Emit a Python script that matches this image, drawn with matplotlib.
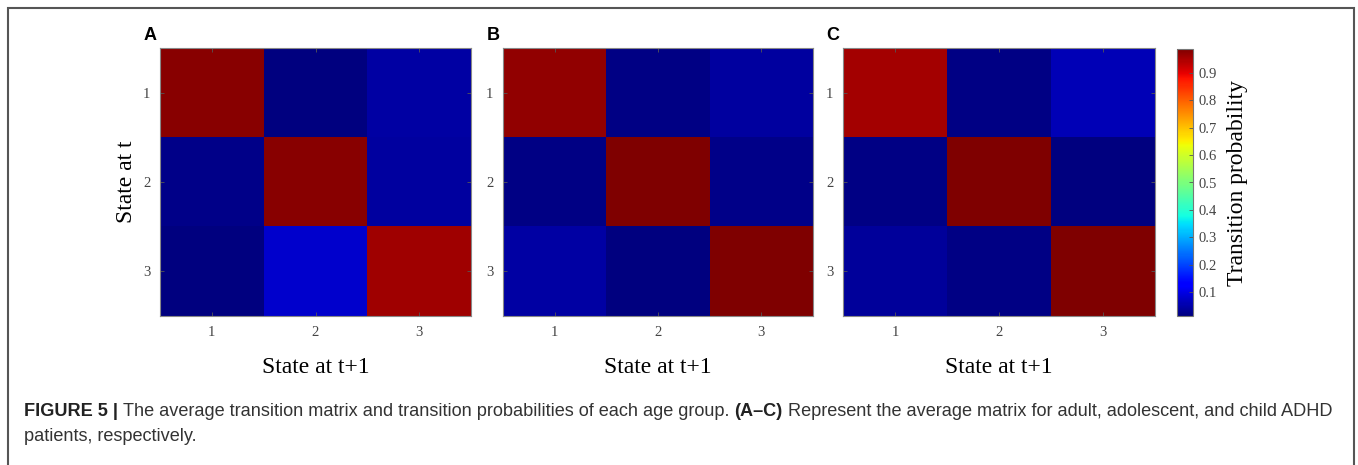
import numpy as np
import matplotlib.pyplot as plt
from matplotlib.patches import Rectangle

# average transition matrices (rows: state at t, cols: state at t+1)
adult = [[0.980, 0.012, 0.045],
         [0.020, 0.980, 0.040],
         [0.012, 0.080, 0.960]]
adolescent = [[0.970, 0.018, 0.040],
              [0.018, 0.988, 0.023],
              [0.044, 0.014, 0.988]]
child = [[0.955, 0.018, 0.060],
         [0.018, 0.988, 0.014],
         [0.035, 0.018, 0.988]]
panels = ['A', 'B', 'C']
states = [1, 2, 3]
cbar_ticks = [0.1, 0.2, 0.3, 0.4, 0.5, 0.6, 0.7, 0.8, 0.9]
vmin, vmax = 0.012, 0.988

W, H = 1358, 465
fig = plt.figure(figsize=(W / 100, H / 100), dpi=100)

serif = 'Liberation Serif'
sans = 'Liberation Sans'
tick_col = '#444444'

# frame around the figure panel
fig.patches.append(Rectangle((8 / W, -0.1), (1354 - 8) / W, 1.1 - 8 / H,
                             transform=fig.transFigure, fill=False,
                             edgecolor='#555555', linewidth=1.5))

lefts = [160, 503, 843]
widths = [311, 310, 312]
top, bottom = 48, 316
mats = [adult, adolescent, child]

for i, mat in enumerate(mats):
    ax = fig.add_axes([lefts[i] / W, (H - bottom) / H, widths[i] / W, (bottom - top) / H])
    im = ax.imshow(np.array(mat), cmap='jet', vmin=vmin, vmax=vmax, aspect='auto',
                   extent=(0.5, 3.5, 3.5, 0.5), interpolation='nearest')
    ax.set_xticks(states)
    ax.set_yticks(states)
    ax.set_xticklabels([str(s) for s in states], fontfamily=serif, fontsize=10.5, color=tick_col)
    ax.set_yticklabels([str(s) for s in states], fontfamily=serif, fontsize=10.5, color=tick_col)
    ax.tick_params(direction='in', length=3, width=0.6, color='#555555',
                   top=True, right=True, pad=7)
    for sp in ax.spines.values():
        sp.set_color('#888888')
        sp.set_linewidth(0.8)
    ax.set_xlabel('State at t+1', fontfamily=serif, fontsize=17, labelpad=13)
    if i == 0:
        ax.set_ylabel('State at t', fontfamily=serif, fontsize=17, labelpad=4)
    fig.text((lefts[i] - 10) / W, (H - 35) / H, panels[i], fontfamily=sans,
             fontweight='bold', fontsize=13, ha='center', va='center')

cax = fig.add_axes([1177 / W, (H - bottom) / H, 16 / W, (bottom - 49) / H])
cb = fig.colorbar(im, cax=cax, ticks=cbar_ticks)
cb.ax.set_yticklabels([f'{t:.1f}' for t in cbar_ticks], fontfamily=serif,
                      fontsize=10.5, color=tick_col)
cb.ax.tick_params(direction='in', length=3, width=0.6, color='#555555', pad=4)
cb.outline.set_edgecolor('#777777')
cb.outline.set_linewidth(0.8)
cb.set_label('Transition probability', fontfamily=serif, fontsize=17, labelpad=7)

# caption, built piece by piece so bold parts sit inline
fig.canvas.draw()
renderer = fig.canvas.get_renderer()
cap_col = '#333333'
line1 = [('FIGURE 5 | ', 'bold', '#222222'),
         ('The average transition matrix and transition probabilities of each age group. ', 'normal', cap_col),
         ('(A\u2013C)', 'bold', '#222222'),
         (' Represent the average matrix for adult, adolescent, and child ADHD', 'normal', cap_col)]
x = 24 / W
for txt, wt, col in line1:
    t = fig.text(x, (H - 411) / H, txt, fontfamily=sans, fontweight=wt,
                 fontsize=13.1, color=col, va='center', ha='left')
    bb = t.get_window_extent(renderer)
    x += bb.width / W
fig.text(24 / W, (H - 436) / H, 'patients, respectively.', fontfamily=sans,
         fontsize=13.1, color=cap_col, va='center', ha='left')

fig.savefig('out.png', dpi=100)
